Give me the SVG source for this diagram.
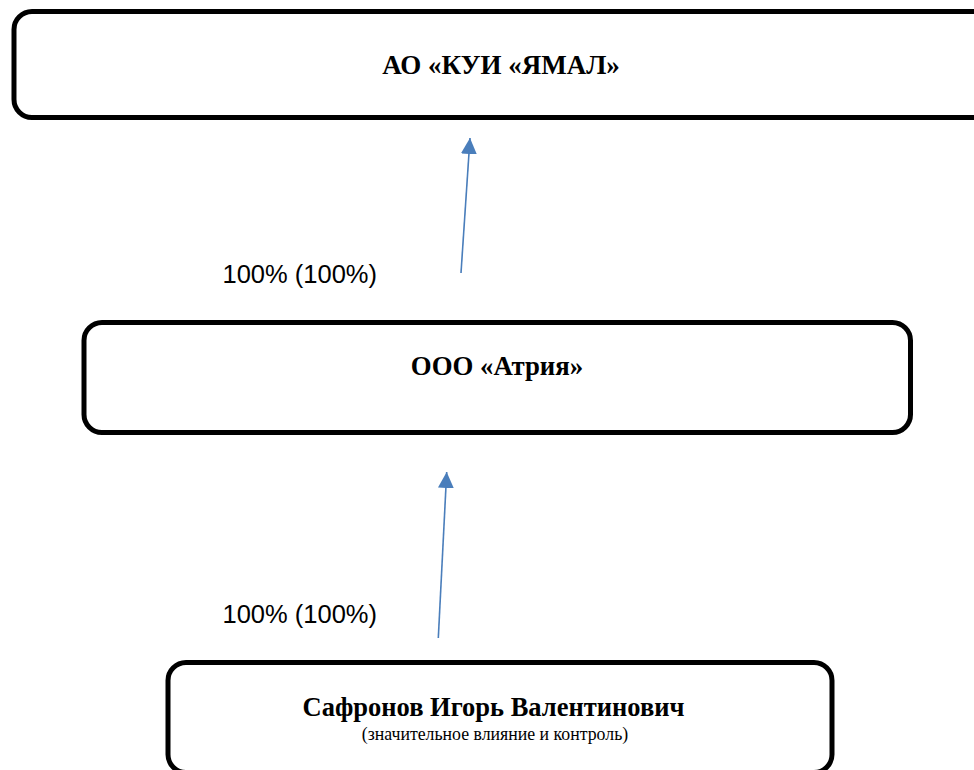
<svg xmlns="http://www.w3.org/2000/svg" width="974" height="770" viewBox="0 0 974 770">
<style>
.box{fill:#fff;stroke:#000;stroke-width:5}
.title{font-family:"Liberation Serif","Times New Roman",serif;font-weight:bold;text-anchor:middle;fill:#000}
.sub{font-family:"Liberation Serif","Times New Roman",serif;text-anchor:middle;fill:#000}
.lbl{font-family:"Liberation Sans",Arial,sans-serif;font-size:25.5px;fill:#000}
.conn{stroke:#4a7ebb;stroke-width:1.6;fill:none}
</style>
<defs>
<marker id="ah" markerUnits="userSpaceOnUse" markerWidth="17" markerHeight="16" refX="16" refY="8" orient="auto" viewBox="0 0 17 16">
<path d="M0,0 L16,8 L0,16 z" fill="#4a7ebb"/>
</marker>
</defs>
<rect width="974" height="770" fill="#fff"/>
<g id="node-yamal">
<rect class="box" x="14" y="11.5" width="1000" height="106" rx="18"/>
<text class="title" x="501" y="74" font-size="27">АО «КУИ «ЯМАЛ»</text>
</g>
<g id="node-atria">
<rect class="box" x="84" y="322.5" width="826.5" height="110" rx="18"/>
<text class="title" x="497" y="375" font-size="26.8">ООО «Атрия»</text>
</g>
<g id="node-safronov">
<rect class="box" x="168" y="662.5" width="664" height="110" rx="18"/>
<text class="title" x="493.5" y="716" font-size="26.5">Сафронов Игорь Валентинович</text>
<text class="sub" x="495" y="740" font-size="17.8">(значительное влияние и контроль)</text>
</g>
<g id="connectors">
<line class="conn" x1="461" y1="273" x2="470" y2="138" marker-end="url(#ah)"/>
<line class="conn" x1="438.3" y1="638" x2="446.7" y2="472" marker-end="url(#ah)"/>
<text class="lbl" x="222.5" y="282.5">100% (100%)</text>
<text class="lbl" x="222.5" y="622.5">100% (100%)</text>
</g>
</svg>
